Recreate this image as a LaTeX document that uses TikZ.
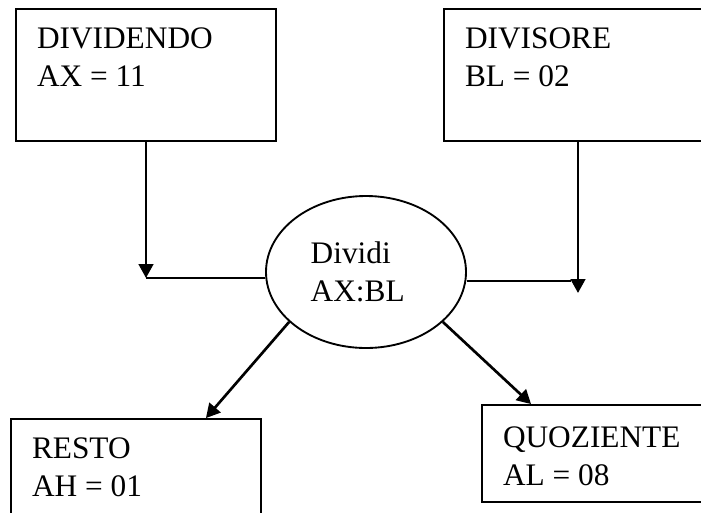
\documentclass[tikz,border=0pt]{standalone}
\usepackage{fontspec}
\setmainfont{Liberation Serif}
\usetikzlibrary{shapes.geometric, arrows.meta, positioning}

\begin{document}
\begin{tikzpicture}[x=0.75pt, y=-0.75pt, font=\fontsize{23.5}{28.5}\selectfont]
  \tikzstyle{block} = [rectangle, draw, line width=1.4pt, inner xsep=15.75pt, inner ysep=14.25pt]
  \tikzstyle{oval} = [ellipse, draw, line width=1.4pt, minimum width=150pt,
      minimum height=114pt, text width=83pt, align=left]
  \tikzstyle{line} = [draw, line width=1.4pt]
  \tikzstyle{arrow} = [draw, line width=2pt, -{Triangle[length=10.5pt, width=11pt]}]

  \useasboundingbox (0,0) rectangle (701,512);
      % Place nodes
      \node [block] (dividendo) at (146,75) {\parbox[c][70.5pt][t]{163.5pt}{DIVIDENDO\\AX = 11}};
      \node [block] (divisore) at (578,75) {\parbox[c][70.5pt][t]{169.5pt}{DIVISORE\\BL = 02}};
      \node [oval] (dividi) at (366,272) {Dividi\\AX:BL};
      \node [block] (resto) at (136,484) {\parbox[c][69pt][t]{156pt}{RESTO\\AH = 01}};
      \node [block, inner ysep=16.5pt] (quoziente) at (602,453.5) {\parbox[c][39.75pt][t]{148.5pt}{QUOZIENTE\\AL = 08}};

      \coordinate (sxjoin) at (146,278);
      \coordinate (dxjoin) at (571,281);
      \coordinate (dxtip) at (578,293);

  %paths
      \path [arrow] (dividendo.south) -- (sxjoin);
      \path [line] (sxjoin) -- (sxjoin -| dividi.west);
      \path [line] (dividi.east |- dxjoin) -- (dxjoin);
      \path [arrow] (divisore.south) -- (dxtip);
      \path [arrow] (dividi.213) -- ([xshift=-42pt]resto.north east);
      \path [arrow] (dividi.327) -- ([xshift=37.5pt]quoziente.north west);

\end{tikzpicture}
\end{document}
